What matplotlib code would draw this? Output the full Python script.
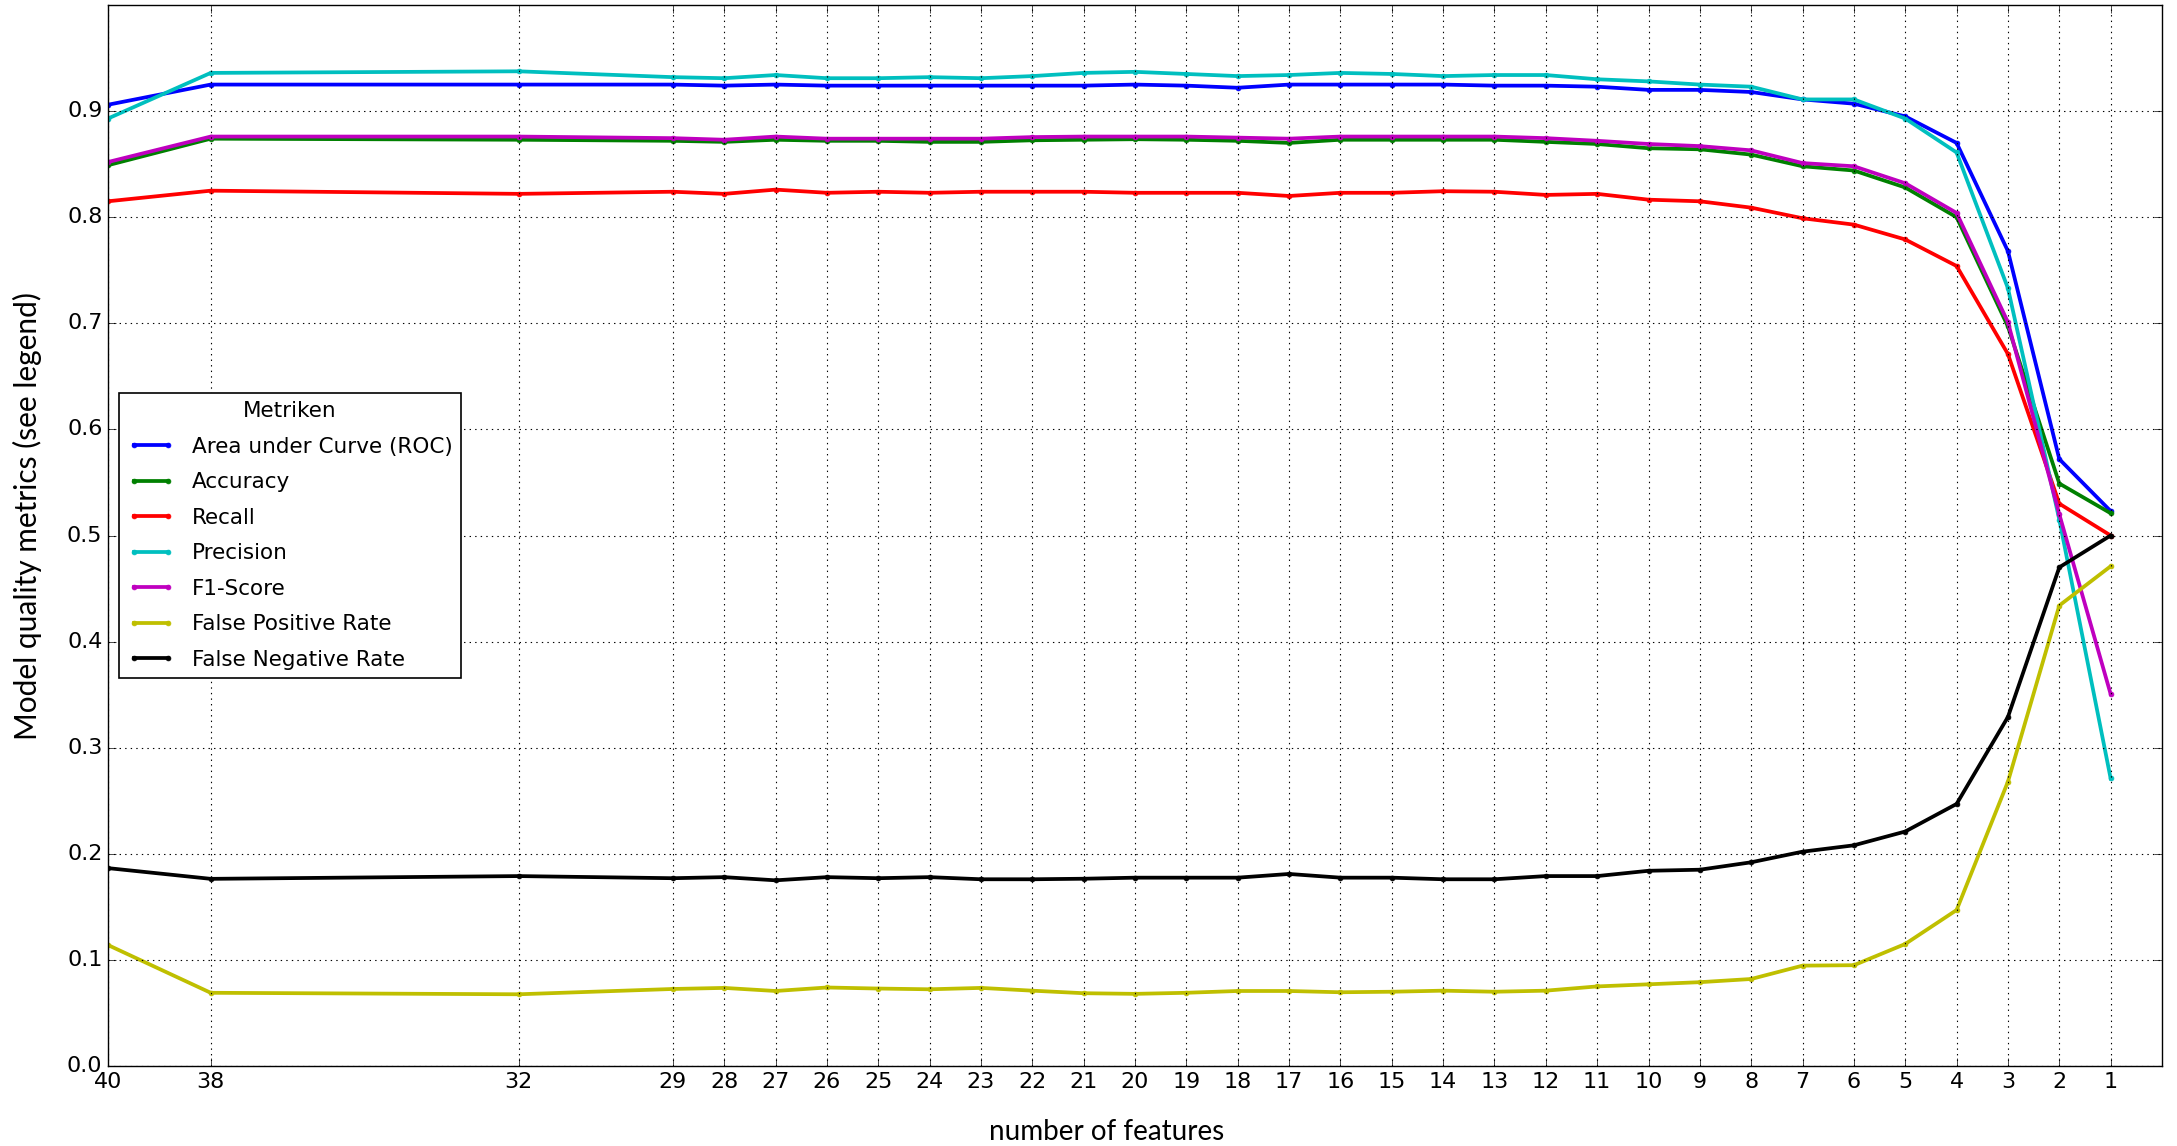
import numpy as np
import matplotlib
matplotlib.use("Agg")
import matplotlib.pyplot as plt

plt.style.use('classic')

# number of features (x axis, shown reversed)
features = [40, 38, 32, 29, 28, 27, 26, 25, 24, 23, 22, 21, 20, 19, 18, 17,
            16, 15, 14, 13, 12, 11, 10, 9, 8, 7, 6, 5, 4, 3, 2, 1]

auc = [0.906, 0.925, 0.925, 0.925, 0.924, 0.925, 0.924, 0.924, 0.924, 0.924,
       0.924, 0.924, 0.925, 0.924, 0.922, 0.925, 0.925, 0.925, 0.925, 0.924,
       0.924, 0.923, 0.920, 0.920, 0.918, 0.911, 0.907, 0.895, 0.870, 0.768,
       0.572, 0.523]
accuracy = [0.849, 0.874, 0.873, 0.872, 0.871, 0.873, 0.872, 0.872, 0.871, 0.871,
            0.8725, 0.873, 0.8735, 0.873, 0.872, 0.870, 0.873, 0.873, 0.873, 0.873,
            0.871, 0.869, 0.865, 0.864, 0.859, 0.848, 0.844, 0.828, 0.800, 0.697,
            0.549, 0.521]
recall = [0.815, 0.825, 0.822, 0.824, 0.822, 0.826, 0.823, 0.824, 0.823, 0.824,
          0.824, 0.824, 0.823, 0.823, 0.823, 0.820, 0.823, 0.823, 0.8245, 0.824,
          0.821, 0.822, 0.8165, 0.815, 0.809, 0.799, 0.793, 0.779, 0.754, 0.671,
          0.530, 0.500]
precision = [0.893, 0.936, 0.9375, 0.932, 0.931, 0.934, 0.931, 0.931, 0.932, 0.931,
             0.933, 0.936, 0.937, 0.935, 0.933, 0.934, 0.936, 0.935, 0.933, 0.934,
             0.934, 0.930, 0.928, 0.925, 0.923, 0.911, 0.911, 0.893, 0.861, 0.733,
             0.515, 0.271]
f1 = [0.852, 0.876, 0.876, 0.8745, 0.873, 0.876, 0.874, 0.874, 0.874, 0.874,
      0.8755, 0.876, 0.876, 0.876, 0.875, 0.874, 0.876, 0.876, 0.876, 0.876,
      0.8745, 0.872, 0.869, 0.867, 0.863, 0.851, 0.848, 0.832, 0.804, 0.701,
      0.520, 0.3505]
fpr = [0.114, 0.069, 0.0676, 0.0726, 0.0736, 0.0707, 0.074, 0.073, 0.0723, 0.0736,
       0.071, 0.0686, 0.068, 0.069, 0.0707, 0.0707, 0.0695, 0.070, 0.071, 0.070,
       0.071, 0.075, 0.077, 0.079, 0.082, 0.0946, 0.095, 0.115, 0.147, 0.268,
       0.434, 0.471]
fnr = [0.1865, 0.1764, 0.179, 0.177, 0.178, 0.175, 0.178, 0.177, 0.178, 0.176,
       0.176, 0.1765, 0.1775, 0.1775, 0.1775, 0.181, 0.1775, 0.1775, 0.176, 0.176,
       0.179, 0.179, 0.184, 0.185, 0.192, 0.202, 0.208, 0.221, 0.247, 0.329,
       0.470, 0.500]

series = [
    ("Area under Curve (ROC)", auc, 'b'),
    ("Accuracy", accuracy, 'g'),
    ("Recall", recall, 'r'),
    ("Precision", precision, 'c'),
    ("F1-Score", f1, 'm'),
    ("False Positive Rate", fpr, 'y'),
    ("False Negative Rate", fnr, 'k'),
]

label_font = ['Lato', 'DejaVu Sans']

fig = plt.figure(figsize=(21.77, 11.46), dpi=100, facecolor='white')
ax = fig.add_axes([108 / 2177, 1 - 1066 / 1146, (2162 - 108) / 2177, (1066 - 5) / 1146])
ax.set_facecolor('white')

for name, vals, col in series:
    ax.plot(features, vals, color=col, marker='.', markersize=7,
            markeredgecolor=col, linewidth=2.7, label=name)

ax.set_xlim(40, 0)
ax.set_ylim(0, 1.0)
ax.set_xticks(features)
ax.set_xticklabels([str(f) for f in features])
ax.set_yticks(np.arange(0, 0.95, 0.1))
ax.tick_params(labelsize=16, length=6)
ax.grid(True, color='k', linestyle=':', linewidth=0.8)

ax.set_xlabel('number of features', fontsize=20, family=label_font)
ax.xaxis.set_label_coords(0.486, -0.05)
ax.set_ylabel('Model quality metrics (see legend)', fontsize=21.5, family=label_font)
ax.yaxis.set_label_coords(-0.032, 0.518)

leg = ax.legend(loc='center left', title='Metriken', fontsize=15.5, numpoints=2,
                handlelength=2.2, labelspacing=0.72, frameon=True, fancybox=False)
leg.get_title().set_fontsize(15.5)
leg.get_frame().set_linewidth(1.2)

fig.savefig('out.png', dpi=100, facecolor='white')
